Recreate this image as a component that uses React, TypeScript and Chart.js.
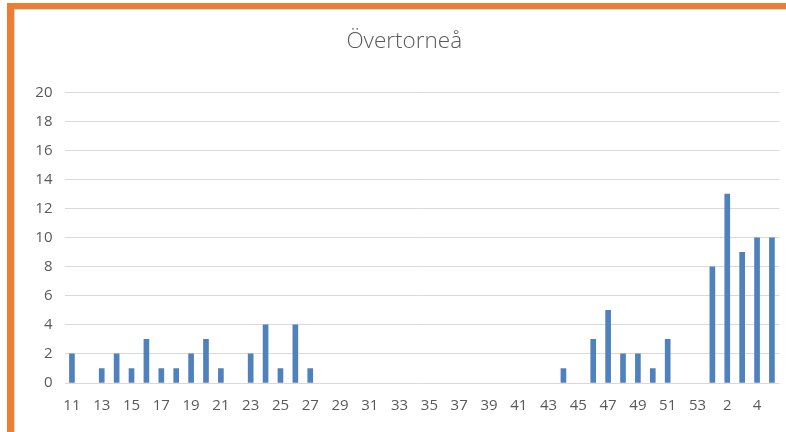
import React, { useEffect, useRef } from "react";
import { Chart, registerables } from "chart.js";

Chart.register(...registerables);

const TITLE = "Övertorneå";

const weeks: string[] = [
  "11", "12", "13", "14", "15", "16", "17", "18", "19", "20",
  "21", "22", "23", "24", "25", "26", "27", "28", "29", "30",
  "31", "32", "33", "34", "35", "36", "37", "38", "39", "40",
  "41", "42", "43", "44", "45", "46", "47", "48", "49", "50",
  "51", "52", "53", "1", "2", "3", "4", "5",
];

const cases: number[] = [
  2, 0, 1, 2, 1, 3, 1, 1, 2, 3,
  1, 0, 2, 4, 1, 4, 1, 0, 0, 0,
  0, 0, 0, 0, 0, 0, 0, 0, 0, 0,
  0, 0, 0, 1, 0, 3, 5, 2, 2, 1,
  3, 0, 0, 8, 13, 9, 10, 10,
];

const yMin = 0;
const yMax = 20;
const yStep = 2;

const TEXT = "#595959";
const GRID = "#d9d9d9";
const BAR = "#4f81bd";
const FONT = "'Open Sans', 'Liberation Sans', sans-serif";

export default function App() {
  const ref = useRef<HTMLCanvasElement | null>(null);

  useEffect(() => {
    if (!ref.current) return;
    const chart = new Chart(ref.current, {
      type: "bar",
      data: {
        labels: weeks,
        datasets: [
          {
            data: cases,
            backgroundColor: (ctx: any) =>
              ctx.raw === 0 ? "rgba(0,0,0,0)" : BAR,
            borderWidth: 0,
            barThickness: 5,
          },
        ],
      },
      options: {
        animation: false,
        responsive: false,
        maintainAspectRatio: false,
        layout: { padding: { left: 28, right: 5.5, top: 0, bottom: 0 } },
        plugins: {
          legend: { display: false },
          tooltip: { enabled: false },
          title: {
            display: true,
            text: TITLE,
            color: TEXT,
            font: { family: FONT, size: 22.5, weight: "300", lineHeight: 1.2 },
            padding: { top: 28.5, bottom: 37 },
          },
        },
        scales: {
          x: {
            grid: { display: false, drawTicks: false },
            border: { display: false },
            ticks: {
              autoSkip: false,
              maxRotation: 0,
              minRotation: 0,
              padding: 14,
              color: TEXT,
              font: { family: FONT, size: 15 },
              callback: (_v: any, i: number) => (i % 2 === 0 ? weeks[i] : ""),
            },
            afterFit: (s: any) => {
              s.height = 49;
            },
          },
          y: {
            min: yMin,
            max: yMax,
            grid: { color: GRID, lineWidth: 1, drawTicks: false },
            border: { display: false },
            ticks: {
              stepSize: yStep,
              padding: 12,
              color: TEXT,
              font: { family: FONT, size: 15 },
            },
            afterFit: (s: any) => {
              s.width = 36.5;
            },
          },
        },
      },
    });
    return () => chart.destroy();
  }, []);

  return (
    <div
      style={{
        position: "fixed",
        left: 0,
        top: 0,
        width: 786,
        height: 432,
        background: "#ffffff",
        overflow: "hidden",
      }}
    >
      <div
        style={{
          position: "absolute",
          left: 7,
          top: 3,
          width: 800,
          height: 440,
          borderLeft: "7px solid #ed7d31",
          borderTop: "6px solid #ed7d31",
          boxSizing: "border-box",
        }}
      />
      <div
        style={{
          position: "absolute",
          left: 14,
          top: 9,
          width: 800,
          height: 440,
          borderLeft: "1px solid #d9d9d9",
          borderTop: "1px solid #d9d9d9",
          boxSizing: "border-box",
        }}
      />
      <canvas
        ref={ref}
        width={786}
        height={432}
        style={{ position: "absolute", left: 0, top: 0, width: 786, height: 432 }}
      />
    </div>
  );
}
